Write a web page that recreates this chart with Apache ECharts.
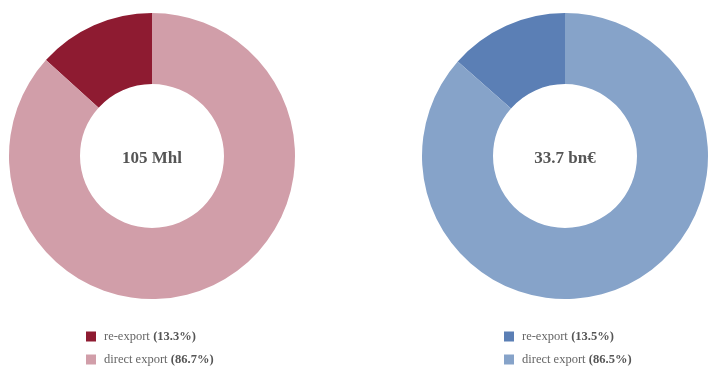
<!DOCTYPE html>
<html>
<head>
<meta charset="utf-8">
<script src="https://cdn.jsdelivr.net/npm/echarts@6/dist/echarts.min.js"></script>
<style>
html,body{margin:0;padding:0;background:#fff;}
#chart{width:722px;height:378px;}
</style>
</head>
<body>
<div id="chart"></div>
<script>
var categories = ['re-export', 'direct export'];
var volumeShares = [13.3, 86.7];
var valueShares = [13.5, 86.5];
var centerLabels = ['105 Mhl', '33.7 bn\u20ac'];
var volumeColors = ['#8e1b31', '#d19ea9'];
var valueColors = ['#5b7fb5', '#86a3c9'];

var FONT = 'Liberation Serif';
var chart = echarts.init(document.getElementById('chart'));

function pieData(vals, cols) {
  return categories.map(function (c, i) {
    return { name: c, value: vals[i], itemStyle: { color: cols[i] } };
  });
}
function legendData(cols) {
  return categories.map(function (c, i) {
    return { name: c, itemStyle: { color: cols[i] } };
  });
}
function legendFmt(vals) {
  return function (name) {
    var i = categories.indexOf(name);
    return '{n|' + name + '} {b|(' + vals[i] + '%)}';
  };
}
var rich = {
  n: { fontFamily: FONT, fontSize: 12.5, color: '#666' },
  b: { fontFamily: FONT, fontSize: 12.5, color: '#555', fontWeight: 'bold' }
};

chart.setOption({
  animation: false,
  legend: [
    { orient: 'vertical', left: 81, top: 325, itemWidth: 10, itemHeight: 10, itemGap: 10,
      icon: 'rect', data: legendData(volumeColors), formatter: legendFmt(volumeShares),
      textStyle: { rich: rich, padding: [0, 0, 0, 3] }, selectedMode: false },
    { orient: 'vertical', left: 499, top: 325, itemWidth: 10, itemHeight: 10, itemGap: 10,
      icon: 'rect', data: legendData(valueColors), formatter: legendFmt(valueShares),
      textStyle: { rich: rich, padding: [0, 0, 0, 3] }, selectedMode: false }
  ],
  graphic: [
    { type: 'text', x: 152, y: 159, style: { text: centerLabels[0], align: 'center', verticalAlign: 'middle',
      font: 'bold 17px "' + FONT + '"', fill: '#555' } },
    { type: 'text', x: 565, y: 159, style: { text: centerLabels[1], align: 'center', verticalAlign: 'middle',
      font: 'bold 17px "' + FONT + '"', fill: '#555' } }
  ],
  series: [
    { type: 'pie', center: [152, 156], radius: [72, 143], clockwise: false, startAngle: 90,
      label: { show: false }, labelLine: { show: false }, silent: true,
      data: pieData(volumeShares, volumeColors) },
    { type: 'pie', center: [565, 156], radius: [72, 143], clockwise: false, startAngle: 90,
      label: { show: false }, labelLine: { show: false }, silent: true,
      data: pieData(valueShares, valueColors) }
  ]
});
</script>
</body>
</html>
